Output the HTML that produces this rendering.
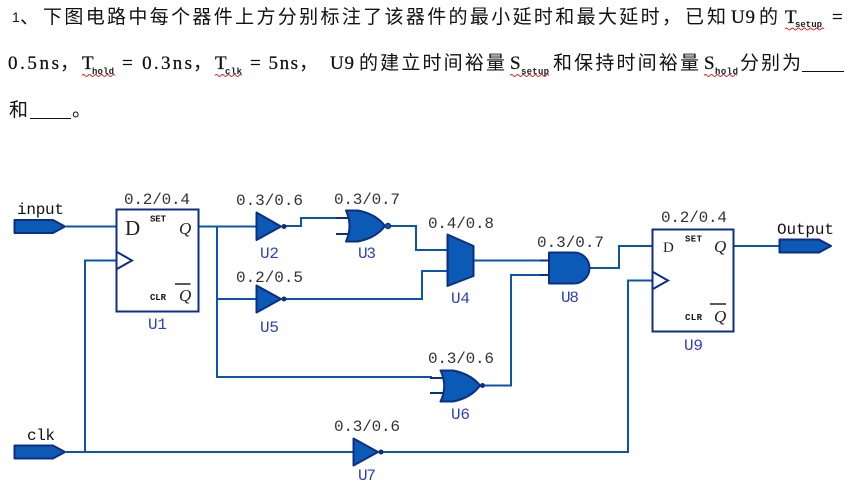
<!DOCTYPE html>
<html>
<head>
<meta charset="utf-8">
<style>
html,body{margin:0;padding:0;background:#fff;width:854px;height:486px;overflow:hidden}
svg{display:block;filter:blur(0.3px)}
.c{font-family:"Noto Sans CJK SC","Liberation Sans",sans-serif;font-size:19px;font-weight:400;fill:#111}
.l{font-family:"Liberation Serif","Noto Serif CJK SC",serif;font-size:19px;fill:#111;stroke:#111;stroke-width:.25}
.s{font-family:"Liberation Mono",monospace;font-size:9px;font-weight:bold;fill:#222}
.d{font-family:"Liberation Mono",monospace;font-size:16px;fill:#333}
.u{font-family:"Liberation Mono",monospace;font-size:16px;fill:#3040b8}
.n{font-family:"Liberation Mono",monospace;font-size:16px;fill:#111}
.k{font-family:"Liberation Mono",monospace;font-size:9px;font-weight:bold;fill:#111}
.q{font-family:"Liberation Serif",serif;font-style:italic;font-size:17px;fill:#222}
.w{fill:none;stroke:#0b55b0;stroke-width:2}
.o{fill:none;stroke:#0c2f85;stroke-width:2}
.g{fill:#0b5ab5;stroke:#0c2f85;stroke-width:2;stroke-linejoin:round}
.r{fill:none;stroke:#d8232a;stroke-width:1}
.b{fill:none;stroke:#111;stroke-width:1}
</style>
</head>
<body>
<svg width="854" height="486" viewBox="0 0 854 486" xmlns="http://www.w3.org/2000/svg">
<!-- Question text -->
<text x="12" y="22" font-family="Liberation Sans,sans-serif" font-size="14" fill="#111">1</text>
<text class="c" x="20" y="23">、</text>
<text class="c" x="43" y="23" textLength="638">下图电路中每个器件上方分别标注了该器件的最小延时和最大延时，</text>
<text class="c" x="685" y="23" textLength="41">已知</text>
<text class="l" x="731" y="23" textLength="24">U9</text>
<text class="c" x="759" y="23">的</text>
<text class="l" x="785" y="23">T</text>
<text class="s" x="795" y="27" textLength="27">setup</text>
<text class="l" x="832" y="23">=</text>
<path class="r" d="M785,29 q1.5,-2 3,0 t3,0 t3,0 t3,0 t3,0 t3,0 t3,0 t3,0 t3,0 t3,0 t3,0 t3,0 t3,0"/>

<text class="l" x="8" y="69" textLength="51">0.5ns</text>
<text class="c" x="60" y="69">，</text>
<text class="l" x="82" y="69">T</text>
<text class="s" x="92" y="74" textLength="22">hold</text>
<path class="r" d="M82,75.500 q1.500,-2 3,0 t3,0 t3,0 t3,0 t3,0 t3,0 t3,0 t3,0 t3,0 t3,0 t3,0"/>
<text class="l" x="122" y="69" textLength="70" xml:space="preserve">= 0.3ns</text>
<text class="c" x="193" y="69">，</text>
<text class="l" x="215" y="69">T</text>
<text class="s" x="225" y="74" textLength="17">clk</text>
<path class="r" d="M215,75.500 q1.500,-2 3,0 t3,0 t3,0 t3,0 t3,0 t3,0 t3,0 t3,0 t3,0"/>
<text class="l" x="250" y="69" textLength="48" xml:space="preserve">= 5ns</text>
<text class="c" x="299" y="69">，</text>
<text class="l" x="330" y="69" textLength="24">U9</text>
<text class="c" x="359" y="69" textLength="146">的建立时间裕量</text>
<text class="l" x="510" y="69">S</text>
<text class="s" x="521" y="74" textLength="28">setup</text>
<path class="r" d="M510,75.500 q1.500,-2 3,0 t3,0 t3,0 t3,0 t3,0 t3,0 t3,0 t3,0 t3,0 t3,0 t3,0 t3,0 t3,0"/>
<text class="c" x="553" y="69" textLength="146">和保持时间裕量</text>
<text class="l" x="704" y="69">S</text>
<text class="s" x="715" y="74" textLength="23">hold</text>
<path class="r" d="M704,75.500 q1.500,-2 3,0 t3,0 t3,0 t3,0 t3,0 t3,0 t3,0 t3,0 t3,0 t3,0 t3,0"/>
<text class="c" x="740" y="69" textLength="61">分别为</text>
<path class="b" d="M802,71.500H844"/>

<text class="c" x="9" y="116">和</text>
<path class="b" d="M30,118.500H71"/>
<text class="c" x="72" y="116">。</text>

<!-- Wires -->
<path class="w" d="M66,226.500H116"/>
<path class="w" d="M198,226.500H256"/>
<path class="w" d="M217,226.500V377H432"/>
<path class="w" d="M217,299H256"/>
<path class="w" d="M284,226H301V218H338"/>
<path class="w" d="M388,226H416V250H447"/>
<path class="w" d="M284,299H422V271H447"/>
<path class="w" d="M474,260.500H540"/>
<path class="w" d="M482,385.500H511V275H540"/>
<path class="w" d="M590,268H619V246H652"/>
<path class="w" d="M733,246H779"/>
<path class="w" d="M116,260.500H85V452"/>
<path class="w" d="M66,452H353"/>
<path class="w" d="M381,452H628V280.500H652"/>
<!-- Stubs -->
<path class="o" d="M336,218H350M336,234H350"/>
<path class="o" d="M430,378H447M430,393H447"/>
<path class="o" d="M540,260.500H549M540,275H549"/>

<!-- Pins -->
<path class="g" d="M14.500,220H53L65,226.500L53,233H14.500Z"/>
<path class="g" d="M14.500,445.500H53L65,452L53,458.500H14.500Z"/>
<path class="g" d="M779.500,239.500H819L831,246L819,252.500H779.500Z"/>

<!-- U1 -->
<rect x="116.500" y="209.500" width="82" height="102" fill="#fff" stroke="#0c2f85" stroke-width="2"/>
<path class="o" d="M117,252L132,260.500L117,269"/>
<text x="125" y="235" font-family="Liberation Serif,serif" font-size="21" fill="#222">D</text>
<text class="k" x="150" y="221.500" textLength="16">SET</text>
<text class="k" x="150" y="300" textLength="16">CLR</text>
<text class="q" x="179" y="234">Q</text>
<text class="q" x="179" y="301">Q</text>
<path d="M175,284H190.500" stroke="#222" stroke-width="1.500"/>

<!-- U9 -->
<rect x="652.500" y="229.500" width="81" height="102" fill="#fff" stroke="#0c2f85" stroke-width="2"/>
<path class="o" d="M653,272L668,280.500L653,289"/>
<text x="663" y="252" font-family="Liberation Serif,serif" font-size="15" fill="#222">D</text>
<text class="k" x="685" y="241.500" textLength="17">SET</text>
<text class="k" x="685" y="320" textLength="17">CLR</text>
<text class="q" x="714" y="252">Q</text>
<text class="q" x="714" y="322">Q</text>
<path d="M710,304H726" stroke="#222" stroke-width="1.500"/>

<!-- Inverters -->
<path class="g" d="M256.500,212.500L281,226.500L256.500,240Z"/><circle cx="284" cy="226.500" r="2.500" fill="#0c2f85"/>
<path class="g" d="M256.500,285.500L281,299L256.500,312.500Z"/><circle cx="284" cy="299" r="2.500" fill="#0c2f85"/>
<path class="g" d="M353.500,438.500L378,452L353.500,465.500Z"/><circle cx="381" cy="452" r="2.500" fill="#0c2f85"/>

<!-- U3 NOR -->
<path class="g" d="M346,210.500Q353,226 346,241.500H358Q376,238 385,226Q376,214 358,210.500Z"/>
<circle cx="388" cy="226" r="2.500" fill="#0b5ab5" stroke="#0c2f85" stroke-width="1.500"/>
<!-- U6 NOR -->
<path class="g" d="M440.500,370.500Q448,386 440.500,401.500H453Q471,398 480,385.500Q471,374 453,370.500Z"/>
<circle cx="482.500" cy="385.500" r="2.500" fill="#0c2f85"/>
<!-- U4 MUX -->
<path class="g" d="M447.500,234.500L473.500,246V276L447.500,286Z"/>
<!-- U8 AND -->
<path class="g" d="M549,252.500H574A15.500,15.500 0 0 1 574,283.500H549Z"/>

<!-- Delay labels -->
<text class="d" x="124" y="204" textLength="66">0.2/0.4</text>
<text class="d" x="236" y="205" textLength="67">0.3/0.6</text>
<text class="d" x="236" y="282" textLength="67">0.2/0.5</text>
<text class="d" x="334" y="204" textLength="66">0.3/0.7</text>
<text class="d" x="428" y="228" textLength="66">0.4/0.8</text>
<text class="d" x="537" y="247" textLength="67">0.3/0.7</text>
<text class="d" x="661" y="222" textLength="66">0.2/0.4</text>
<text class="d" x="428" y="363" textLength="66">0.3/0.6</text>
<text class="d" x="334" y="431" textLength="66">0.3/0.6</text>

<!-- Device labels -->
<text class="u" x="148" y="329" textLength="19">U1</text>
<text class="u" x="260" y="258" textLength="19">U2</text>
<text class="u" x="260" y="332" textLength="19">U5</text>
<text class="u" x="358" y="258" textLength="18">U3</text>
<text class="u" x="451" y="303" textLength="19">U4</text>
<text class="u" x="561" y="302" textLength="18">U8</text>
<text class="u" x="684" y="350" textLength="19">U9</text>
<text class="u" x="451" y="419" textLength="19">U6</text>
<text class="u" x="358" y="480" textLength="18">U7</text>

<!-- Pin names -->
<text class="n" x="17" y="214" textLength="47">input</text>
<text class="n" x="27" y="440" textLength="28">clk</text>
<text class="n" x="777" y="234" textLength="57">Output</text>
</svg>
</body>
</html>
